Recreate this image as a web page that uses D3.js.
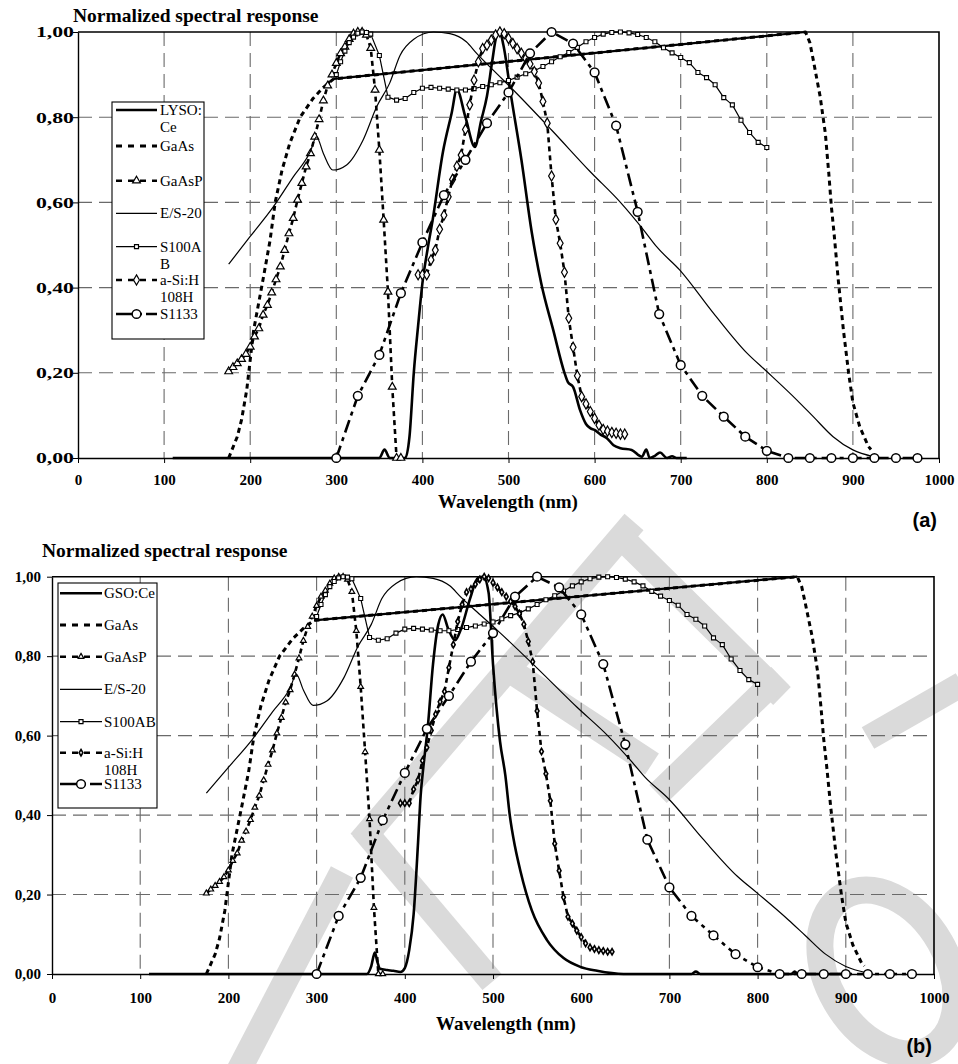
<!DOCTYPE html>
<html>
<head>
<meta charset="utf-8">
<script src="https://d3js.org/d3.v7.min.js"></script>
<style>
  body { margin: 0; background: #fff; }
  svg { display: block; }
  text { font-family: "Liberation Serif", "Times New Roman", serif; fill: #000; }
</style>
</head>
<body>
<svg id="chart" width="958" height="1064"></svg>
<script>
// axis ticks
const xTicks = [0, 100, 200, 300, 400, 500, 600, 700, 800, 900, 1000];
const yTicks = [0, 0.2, 0.4, 0.6, 0.8, 1.0];

// scintillator emission spectra [wavelength nm, normalized response]
const lysoCe = [[110,0],[350,0],[356,0.02],[362,0],[380,0],[385,0.05],[390,0.2],[395,0.31],[400,0.41],
  [406,0.49],[412,0.56],[424,0.72],[434,0.81],[440,0.865],[450,0.80],[461,0.73],[468,0.79],[475,0.85],
  [481,0.93],[486,0.99],[490,1.0],[494,0.97],[503,0.85],[515,0.70],[527,0.53],[538,0.41],[552,0.30],
  [565,0.20],[569,0.178],[575,0.167],[583,0.113],[590,0.08],[595,0.07],[600,0.066],[607,0.055],
  [614,0.047],[622,0.03],[630,0.023],[643,0.019],[655,0.003],[660,0.02],[664,0],[670,0.005],
  [676,0.013],[684,0],[690,0.004],[695,0],[707,0]];
const gsoCe = [[110,0],[357,0],[362,0.02],[366,0.054],[369,0.03],[372,0.013],[380,0.01],[387,0.008],
  [395,0.005],[400,0.015],[405,0.06],[410,0.15],[415,0.33],[418,0.45],[421,0.52],[426,0.62],[432,0.78],
  [438,0.88],[443,0.905],[449,0.87],[457,0.84],[464,0.87],[474,0.945],[483,0.997],[489,1.0],[495,0.96],
  [500,0.78],[508,0.585],[514,0.50],[519,0.40],[525,0.32],[531,0.26],[544,0.16],[561,0.086],[580,0.04],
  [599,0.018],[618,0.008],[648,0],[725,0],[730,0.006],[735,0],[838,0],[842,0.006],[846,0],[900,0]];

// photodetector spectral responses
const gaAs = [[175,0],[185,0.05],[190,0.09],[196,0.16],[204,0.30],[215,0.42],[223,0.51],[229,0.60],
  [237,0.676],[246,0.739],[258,0.80],[273,0.844],[285,0.87],[297,0.89],[845,1.0],[850,0.975],[854,0.934],
  [862,0.848],[868,0.762],[872,0.668],[875,0.59],[878,0.53],[883,0.418],[889,0.30],[895,0.20],
  [900,0.13],[908,0.073],[918,0.027],[921,0.02]];
const gaAsP = [[175,0.203],[180,0.213],[185,0.222],[190,0.232],[195,0.244],[200,0.261],[205,0.285],
  [210,0.304],[215,0.336],[220,0.359],[225,0.388],[230,0.419],[235,0.449],[240,0.488],[245,0.527],
  [250,0.563],[255,0.606],[260,0.645],[265,0.684],[270,0.715],[275,0.754],[280,0.795],[285,0.839],
  [290,0.874],[295,0.90],[300,0.927],[305,0.95],[310,0.965],[315,0.983],[320,0.996],[325,1.0],[330,1.0],
  [335,0.993],[340,0.962],[345,0.864],[350,0.723],[355,0.559],[360,0.39],[365,0.167],[370,0],[375,0]];
const es20 = [[175,0.455],[200,0.52],[227,0.59],[250,0.66],[270,0.72],[277,0.754],[285,0.715],
  [296,0.676],[312,0.688],[331,0.746],[347,0.825],[362,0.88],[374,0.945],[390,0.983],[413,1.0],
  [432,0.996],[451,0.977],[463,0.95],[482,0.911],[505,0.865],[550,0.77],[595,0.672],[630,0.60],
  [657,0.535],[672,0.496],[699,0.441],[738,0.34],[777,0.246],[800,0.203],[835,0.136],[854,0.097],
  [877,0.05],[900,0.019],[924,0.003]];
const s100ab = [[300,0.90],[305,0.93],[310,0.955],[315,0.975],[320,0.988],[325,0.997],[330,1.0],
  [335,0.999],[340,0.995],[350,0.945],[360,0.847],[370,0.84],[380,0.844],[390,0.858],[400,0.868],
  [410,0.87],[420,0.868],[430,0.866],[440,0.864],[450,0.864],[460,0.867],[470,0.872],[480,0.876],
  [490,0.881],[500,0.886],[510,0.894],[520,0.902],[530,0.909],[540,0.919],[550,0.93],[560,0.942],
  [570,0.952],[580,0.964],[590,0.977],[600,0.987],[610,0.995],[620,0.999],[630,1.0],[640,0.998],
  [650,0.994],[660,0.987],[670,0.977],[680,0.963],[690,0.951],[700,0.94],[710,0.928],[720,0.905],
  [730,0.893],[740,0.876],[750,0.846],[760,0.829],[770,0.793],[780,0.764],[790,0.741],[800,0.729]];
const aSiH = [[395,0.43],[400,0.43],[405,0.43],[410,0.465],[415,0.488],[420,0.537],[425,0.57],
  [430,0.613],[435,0.654],[440,0.685],[445,0.711],[450,0.771],[455,0.829],[460,0.887],[465,0.93],
  [470,0.961],[475,0.969],[480,0.981],[485,0.993],[490,1.0],[495,0.996],[500,0.985],[505,0.973],
  [510,0.961],[515,0.95],[520,0.938],[525,0.925],[530,0.907],[535,0.88],[540,0.837],[545,0.786],
  [550,0.662],[555,0.56],[560,0.504],[565,0.436],[570,0.328],[575,0.26],[580,0.193],[585,0.144],
  [590,0.127],[595,0.109],[600,0.093],[605,0.077],[610,0.067],[615,0.063],[620,0.06],[625,0.058],
  [630,0.056],[635,0.056]];
const s1133 = [[300,0],[325,0.146],[350,0.242],[375,0.387],[400,0.506],[425,0.617],[450,0.70],
  [475,0.786],[500,0.858],[525,0.95],[550,1.0],[575,0.973],[600,0.905],[625,0.78],[650,0.578],
  [675,0.338],[700,0.218],[725,0.146],[750,0.097],[775,0.05],[800,0.017],[825,0],[850,0],[875,0],
  [900,0],[925,0],[950,0],[975,0]];

const legendA = [['LYSO:', 'Ce'], ['GaAs'], ['GaAsP'], ['E/S-20'], ['S100A', 'B'], ['a-Si:H', '108H'], ['S1133']];
const legendB = [['GSO:Ce'], ['GaAs'], ['GaAsP'], ['E/S-20'], ['S100AB'], ['a-Si:H', '108H'], ['S1133']];

const svg = d3.select('#chart');
const fmtY = d => d3.format('.2f')(d).replace('.', ',');
const serif = '"Liberation Serif", "Times New Roman", serif';

// faint grey proof watermark behind panel (b) (page decoration, not data)
const wm = svg.append('g').attr('fill', 'none').attr('stroke', '#dadada').attr('stroke-width', 25);
[[[360, 842], [634, 522]], [[362, 828], [492, 982]], [[500, 664], [652, 764]],
 [[620, 536], [782, 696]], [[780, 676], [658, 794]], [[238, 1072], [342, 872]],
 [[868, 738], [962, 684]]]
  .forEach(s => wm.append('path').attr('d', d3.line()(s)));
wm.append('ellipse').attr('cx', 888).attr('cy', 972).attr('rx', 60).attr('ry', 88)
  .attr('transform', 'rotate(-30,888,972)').attr('stroke-width', 27);

function drawPanel(p) {
  const x = d3.scaleLinear().domain([0, 1000]).range([p.left, p.right]);
  const y = d3.scaleLinear().domain([0, 1]).range([p.bottom, p.top]);
  const g = svg.append('g');

  // dashed grid
  g.selectAll('.vg').data(xTicks.slice(1, -1)).join('line')
    .attr('x1', d => x(d)).attr('x2', d => x(d))
    .attr('y1', y(1)).attr('y2', y(0))
    .attr('stroke', '#6a6a6a').attr('stroke-width', 1.1).attr('stroke-dasharray', '14,7');
  g.selectAll('.hg').data(yTicks.slice(1, -1)).join('line')
    .attr('x1', x(0)).attr('x2', x(1000))
    .attr('y1', d => y(d)).attr('y2', d => y(d))
    .attr('stroke', '#6a6a6a').attr('stroke-width', 1.1).attr('stroke-dasharray', '14,7');

  // frame top / right
  g.append('path')
    .attr('d', `M${x(0)},${y(1)}H${x(1000)}V${y(0)}`)
    .attr('fill', 'none').attr('stroke', '#000').attr('stroke-width', 1.6);

  const xAxis = d3.axisBottom(x).tickValues(xTicks).tickSize(5).tickSizeOuter(0).tickFormat(d3.format('d'));
  const yAxis = d3.axisLeft(y).tickValues(yTicks).tickSize(5).tickSizeOuter(0).tickFormat(fmtY);

  g.append('g').attr('transform', `translate(0,${y(0)})`).call(xAxis)
    .call(a => a.select('.domain').attr('stroke-width', 1.4))
    .call(a => a.selectAll('text').attr('y', p.xLabOff)
      .style('font-family', serif).style('font-weight', 'bold').style('font-size', '15px'));
  g.append('g').attr('transform', `translate(${x(0)},0)`).call(yAxis)
    .call(a => a.select('.domain').attr('stroke-width', 1.4))
    .call(a => a.selectAll('text').attr('x', 0)
      .attr('transform', `translate(${p.yLabOff},0) scale(${p.yStretch},1)`)
      .style('font-family', serif).style('font-weight', 'bold').style('font-size', '15px'));

  const line = d3.line().x(d => x(d[0])).y(d => y(d[1]));
  const smooth = d3.line().x(d => x(d[0])).y(d => y(d[1])).curve(d3.curveMonotoneX);

  function path(data, gen, w, dash) {
    g.append('path').datum(data).attr('d', gen)
      .attr('fill', 'none').attr('stroke', '#000').attr('stroke-width', w)
      .attr('stroke-dasharray', dash || null).attr('stroke-linejoin', 'round');
  }
  function marks(data, type, size, sw) {
    g.append('g').selectAll('path').data(data).join('path')
      .attr('d', d3.symbol().type(type).size(size))
      .attr('transform', d => `translate(${x(d[0])},${y(d[1])})`)
      .attr('fill', '#fff').attr('stroke', '#000').attr('stroke-width', sw);
  }

  // scintillator
  path(p.scint, smooth, 2.6);
  // GaAs: dashed, the long straight stretch renders solid
  path(gaAs, line, 3, '5,4');
  path(gaAs.filter(d => d[0] >= 297 && d[0] <= 845), line, 2.2);
  // GaAsP
  path(gaAsP, line, 2.6, '5,4');
  marks(gaAsP, d3.symbolTriangle, p.triSize, 1.2);
  // E/S-20
  path(es20, smooth, 1.2);
  // S100AB
  path(s100ab, line, 1.2);
  marks(s100ab, d3.symbolSquare, 16, 1.1);
  // a-Si:H 108H
  path(aSiH, line, 2.6, '5,4');
  marks(aSiH, d3.symbolDiamond, p.diaSize, p.diaStroke);
  // S1133
  path(s1133, line, 2.6, '13,5,4,5');
  marks(s1133, d3.symbolCircle, 60, 1.5);

  // legend
  const L = p.legend;
  g.append('rect').attr('x', L.x).attr('y', L.y).attr('width', L.w).attr('height', L.h)
    .attr('fill', '#fff').attr('stroke', '#000').attr('stroke-width', 1.1);
  const styles = [
    { w: 2.6 }, { w: 3, dash: '6,6' }, { w: 2.6, dash: '6,6', sym: d3.symbolTriangle, size: p.triSize },
    { w: 1.2 }, { w: 1.2, sym: d3.symbolSquare, size: 16 },
    { w: 2.6, dash: '6,6', sym: d3.symbolDiamond, size: p.diaSize, sw: p.diaStroke },
    { w: 2.6, dash: '18,4,4,4', sym: d3.symbolCircle, size: 60, sw: 1.5 }
  ];
  p.labels.forEach((lab, i) => {
    const ry = L.rows[i], s = styles[i];
    g.append('line').attr('x1', L.x1).attr('x2', L.x2).attr('y1', ry).attr('y2', ry)
      .attr('stroke', '#000').attr('stroke-width', s.w).attr('stroke-dasharray', s.dash || null);
    if (s.sym) {
      g.append('path').attr('d', d3.symbol().type(s.sym).size(s.size))
        .attr('transform', `translate(${(L.x1 + L.x2) / 2},${ry})`)
        .attr('fill', '#fff').attr('stroke', '#000').attr('stroke-width', s.sw || 1.2);
    }
    lab.forEach((t, k) => {
      g.append('text').attr('x', L.tx).attr('y', ry + 5 + k * 17)
        .style('font-size', '15px').text(t);
    });
  });

  // titles
  g.append('text').attr('x', p.titleX).attr('y', p.titleY)
    .style('font-weight', 'bold').style('font-size', '19.5px').text('Normalized spectral response');
  g.append('text').attr('x', p.xTitleX).attr('y', p.xTitleY).attr('text-anchor', 'middle')
    .style('font-weight', 'bold').style('font-size', '19px').text('Wavelength (nm)');
  g.append('text').attr('x', p.right - 2).attr('y', p.tagY).attr('text-anchor', 'end')
    .style('font-family', '"Liberation Sans", Arial, sans-serif')
    .style('font-weight', 'bold').style('font-size', '20px').text(p.tag);
}

drawPanel({
  left: 78, right: 939, top: 32, bottom: 458,
  scint: lysoCe, labels: legendA, tag: '(a)',
  xLabOff: 16, yLabOff: -4, yStretch: 1.45,
  triSize: 26, diaSize: 30, diaStroke: 1.2,
  titleX: 73, titleY: 22, xTitleX: 508, xTitleY: 508, tagY: 527,
  legend: { x: 112, y: 102, w: 92, h: 237, x1: 116, x2: 157, tx: 160,
    rows: [110, 146, 180.7, 213.3, 246.7, 280, 314] }
});
drawPanel({
  left: 52, right: 934, top: 576.7, bottom: 974,
  scint: gsoCe, labels: legendB, tag: '(b)',
  xLabOff: 18, yLabOff: -11, yStretch: 1,
  triSize: 14, diaSize: 12, diaStroke: 1.6,
  titleX: 42, titleY: 557, xTitleX: 506, xTitleY: 1030, tagY: 1053,
  legend: { x: 58, y: 583, w: 99, h: 225, x1: 60, x2: 102, tx: 104,
    rows: [593.3, 625, 656.7, 689.3, 721.7, 752.7, 784] }
});
</script>
</body>
</html>
